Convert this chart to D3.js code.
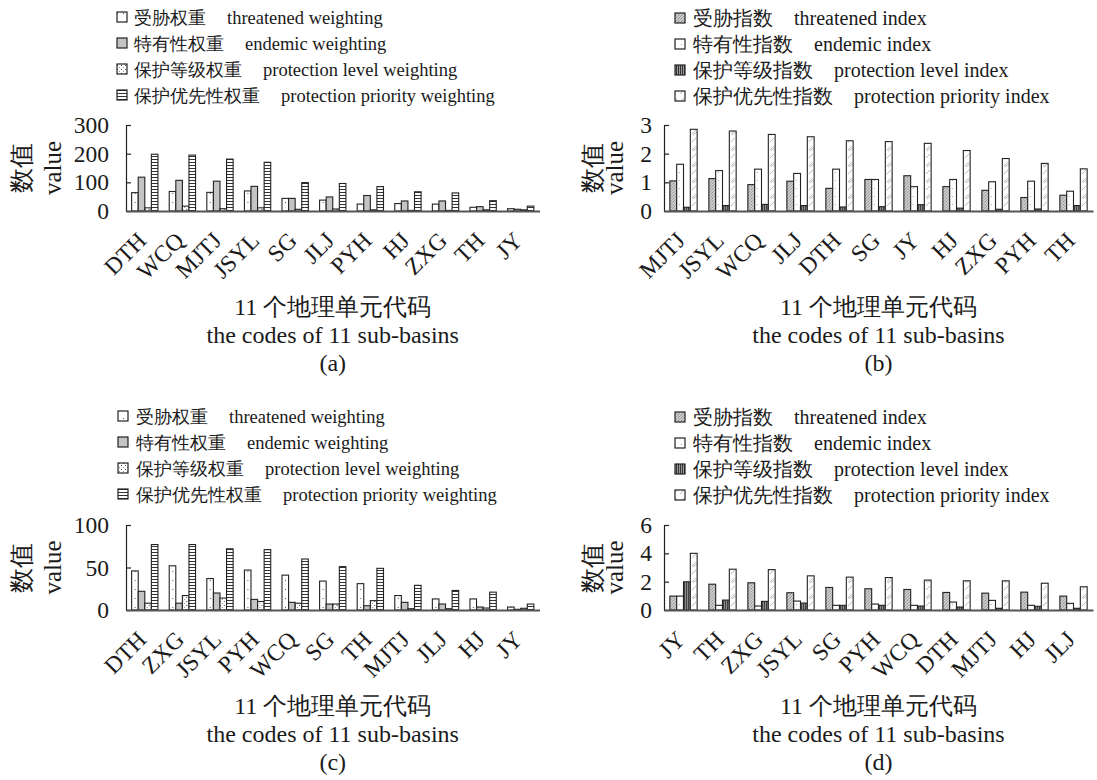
<!DOCTYPE html>
<html><head><meta charset="utf-8">
<script src="https://cdn.jsdelivr.net/npm/d3@7/dist/d3.min.js"></script>
<style>
html,body{margin:0;padding:0;background:#fff;}
svg text{fill:#1a1a1a;font-family:"Liberation Serif","Times New Roman","DejaVu Serif",serif;}
</style></head>
<body>
<script>
// ---------- DATA ----------
const catsA = ["DTH","WCQ","MJTJ","JSYL","SG","JLJ","PYH","HJ","ZXG","TH","JY"];
const threatW_A   = [64,68,65,70,44,38,24,26,24,13,8];
const endemicW_A  = [118,107,104,86,44,49,54,35,35,15,6];
const levelW_A    = [11,17,8,11,6,7,4,2,2,4,4];
const priorityW_A = [198,195,181,170,99,96,85,67,63,36,17];
const ticksA = [0,100,200,300];

const catsB = ["MJTJ","JSYL","WCQ","JLJ","DTH","SG","JY","HJ","ZXG","PYH","TH"];
const threatI_B   = [1.05,1.13,0.92,1.04,0.79,1.10,1.23,0.85,0.72,0.47,0.55];
const endemicI_B  = [1.63,1.41,1.46,1.31,1.46,1.10,0.85,1.10,1.02,1.04,0.69];
const levelI_B    = [0.13,0.19,0.23,0.19,0.14,0.15,0.22,0.10,0.06,0.07,0.19];
const priorityI_B = [2.85,2.79,2.67,2.59,2.45,2.42,2.36,2.11,1.83,1.66,1.47];
const ticksB = [0,1,2,3];

const catsC = ["DTH","ZXG","JSYL","PYH","WCQ","SG","TH","MJTJ","JLJ","HJ","JY"];
const threatW_C   = [46,52,37,47,41,34,31,17,13,13,3.5];
const endemicW_C  = [22,8,20,12.5,9,7,5,9,7,3.5,0.8];
const levelW_C    = [8,17,14,10,8,7,11,1.5,1.5,2.3,2];
const priorityW_C = [77,77,72,71,60,51,49,29,23,21,7];
const ticksC = [0,50,100];

const catsD = ["JY","TH","ZXG","JSYL","SG","PYH","WCQ","DTH","MJTJ","HJ","JLJ"];
const threatI_D   = [0.98,1.82,1.92,1.22,1.59,1.50,1.45,1.24,1.19,1.26,0.98];
const endemicI_D  = [0.98,0.33,0.28,0.63,0.33,0.42,0.33,0.56,0.68,0.33,0.47];
const levelI_D    = [1.99,0.70,0.61,0.49,0.33,0.33,0.28,0.21,0.12,0.26,0.12];
const priorityI_D = [4.0,2.88,2.85,2.41,2.32,2.29,2.11,2.06,2.06,1.89,1.64];
const ticksD = [0,2,4,6];

const legendW_zh = ["受胁权重","特有性权重","保护等级权重","保护优先性权重"];
const legendW_en = ["threatened weighting","endemic weighting","protection level weighting","protection priority weighting"];
const legendI_zh = ["受胁指数","特有性指数","保护等级指数","保护优先性指数"];
const legendI_en = ["threatened index","endemic index","protection level index","protection priority index"];
const yLabelZh = "数值", yLabelEn = "value";
const xTitleZh = "11 个地理单元代码", xTitleEn = "the codes of 11 sub-basins";
const panelTags = ["(a)","(b)","(c)","(d)"];

// ---------- SETUP ----------
const svg = d3.select("body").append("svg").attr("width",1097).attr("height",780);
svg.append("rect").attr("width",1097).attr("height",780).attr("fill","#fff");

const defs = svg.append("defs");
function pat(id,w,h,draw){
  const p = defs.append("pattern").attr("id",id).attr("patternUnits","userSpaceOnUse")
    .attr("width",w).attr("height",h);
  draw(p);
}
// weighting patterns
pat("pA1",6,9,p=>{p.append("rect").attr("width",6).attr("height",9).attr("fill","#fff");
  p.append("rect").attr("x",3).attr("y",4).attr("width",1).attr("height",1).attr("fill","#555");});
pat("pA2",4,4,p=>{p.append("rect").attr("width",4).attr("height",4).attr("fill","#c4c4c4");});
pat("pA3",4,4,p=>{p.append("rect").attr("width",4).attr("height",4).attr("fill","#fff");
  p.append("rect").attr("x",1).attr("y",1).attr("width",1).attr("height",1).attr("fill","#444");
  p.append("rect").attr("x",3).attr("y",3).attr("width",1).attr("height",1).attr("fill","#888");});
pat("pA4",4,3,p=>{p.append("rect").attr("width",4).attr("height",3).attr("fill","#fff");
  p.append("rect").attr("y",0).attr("width",4).attr("height",1).attr("fill","#333");});
// index patterns
pat("pB1",3,3,p=>{p.append("rect").attr("width",3).attr("height",3).attr("fill","#cfcfcf");
  p.append("rect").attr("x",0).attr("y",0).attr("width",1).attr("height",1).attr("fill","#8a8a8a");
  p.append("rect").attr("x",2).attr("y",1).attr("width",1).attr("height",1).attr("fill","#a0a0a0");
  p.append("rect").attr("x",1).attr("y",2).attr("width",1).attr("height",1).attr("fill","#9a9a9a");});
pat("pB2",6,8,p=>{p.append("rect").attr("width",6).attr("height",8).attr("fill","#fff");
  p.append("rect").attr("x",3).attr("y",4).attr("width",1).attr("height",1).attr("fill","#aaa");});
pat("pB3",2,4,p=>{p.append("rect").attr("width",2).attr("height",4).attr("fill","#9a9a9a");
  p.append("rect").attr("x",0).attr("width",1).attr("height",4).attr("fill","#333");});
pat("pB4",7,16,p=>{p.append("rect").attr("width",7).attr("height",16).attr("fill","#fff");
  p.append("path").attr("d","M1,6 L5,2 M2,7 L6,4 M1,14 L5,10").attr("stroke","#b5b5b5").attr("stroke-width",1).attr("fill","none");});

const fillsW = ["url(#pA1)","url(#pA2)","url(#pA3)","url(#pA4)"];
const fillsI = ["url(#pB1)","url(#pB2)","url(#pB3)","url(#pB4)"];

function panel(cfg){
  const g = svg.append("g");
  const y = d3.scaleLinear().domain([0,cfg.yMax]).range([cfg.yBot,cfg.yTop]);
  const xb = d3.scaleBand().domain(cfg.cats).range([cfg.x0,cfg.x1]).paddingInner(0.3).paddingOuter(0.15);
  const xs = d3.scaleBand().domain(d3.range(cfg.series.length)).range([0,xb.bandwidth()]);
  const rows = cfg.cats.map((c,i)=>({c, vals: cfg.series.map(s=>s[i])}));
  const grp = g.selectAll("g.grp").data(rows).join("g").attr("transform",d=>`translate(${xb(d.c)},0)`);
  grp.selectAll("rect").data(d=>d.vals.map((v,k)=>({v,k}))).join("rect")
    .attr("x",d=>xs(d.k)).attr("width",xs.bandwidth())
    .attr("y",d=>y(d.v)).attr("height",d=>cfg.yBot-y(d.v))
    .attr("fill",d=>cfg.fills[d.k]).attr("stroke","#222").attr("stroke-width",1.1);

  // y axis
  const ya = g.append("g").attr("transform",`translate(${cfg.x0},0)`)
    .call(d3.axisLeft(y).tickValues(cfg.ticks).tickSizeInner(-5).tickSizeOuter(0).tickPadding(cfg.tickPad).tickFormat(d3.format("d")));
  ya.attr("font-family",null);
  ya.select(".domain").attr("stroke","#222").attr("stroke-width",1.2);
  ya.selectAll(".tick line").attr("stroke","#222").attr("stroke-width",1.2);
  ya.selectAll(".tick text").attr("font-size",23.5).attr("fill","#1a1a1a");

  // x axis
  const xa = g.append("g").attr("transform",`translate(0,${cfg.yBot})`)
    .call(d3.axisBottom(xb).tickSize(0).tickSizeOuter(0));
  xa.attr("font-family",null);
  xa.select(".domain").attr("stroke","#555").attr("stroke-width",2);
  xa.selectAll(".tick text").attr("font-size",23.5).attr("fill","#1a1a1a")
    .attr("text-anchor","end").attr("y",0).attr("dy",0)
    .attr("transform","translate(3,31) rotate(-45)");

  // y labels
  const cy = (cfg.yTop+cfg.yBot)/2;
  g.append("text").attr("transform",`translate(${cfg.ylabZhX},${cy}) rotate(-90)`)
    .attr("text-anchor","middle").attr("dy","0.35em").attr("font-size",25).text(yLabelZh);
  g.append("text").attr("transform",`translate(${cfg.ylabEnX},${cy}) rotate(-90)`)
    .attr("text-anchor","middle").attr("dy","0.35em").attr("font-size",25).text(yLabelEn);

  // x titles
  const cx = (cfg.x0+cfg.x1)/2;
  g.append("text").attr("x",cx).attr("y",cfg.yBot+104).attr("text-anchor","middle").attr("font-size",24).text(xTitleZh);
  g.append("text").attr("x",cx).attr("y",cfg.yBot+132).attr("text-anchor","middle").attr("font-size",24).text(xTitleEn);
  g.append("text").attr("x",cx).attr("y",cfg.yBot+160).attr("text-anchor","middle").attr("font-size",24).text(cfg.tag);

  // legend
  cfg.legZh.forEach((t,i)=>{
    const by = cfg.legY + i*26;
    g.append("rect").attr("x",cfg.sqX).attr("y",by-12).attr("width",10).attr("height",10)
      .attr("fill",cfg.fills[i]).attr("stroke","#222").attr("stroke-width",1.2);
    const tz = g.append("text").attr("x",cfg.txX).attr("y",by).attr("font-size",cfg.legFs).text(t);
    const w = tz.node().getComputedTextLength();
    g.append("text").attr("x",cfg.txX+w+21).attr("y",by).attr("font-size",cfg.legFsEn).text(cfg.legEn[i]);
  });
}

panel({cats:catsA, series:[threatW_A,endemicW_A,levelW_A,priorityW_A], ticks:ticksA, yMax:300,
  x0:126, x1:539.5, yTop:125, yBot:211, tickPad:17, fills:fillsW, tag:panelTags[0],
  ylabZhX:21, ylabEnX:52, legZh:legendW_zh, legEn:legendW_en, legY:24, sqX:117, txX:134, legFs:18, legFsEn:18.5});
panel({cats:catsB, series:[threatI_B,endemicI_B,levelI_B,priorityI_B], ticks:ticksB, yMax:3,
  x0:664, x1:1093, yTop:125, yBot:211, tickPad:12, fills:fillsI, tag:panelTags[1],
  ylabZhX:592, ylabEnX:614, legZh:legendI_zh, legEn:legendI_en, legY:25, sqX:675, txX:693, legFs:20, legFsEn:20});
panel({cats:catsC, series:[threatW_C,endemicW_C,levelW_C,priorityW_C], ticks:ticksC, yMax:100,
  x0:126, x1:539.5, yTop:525, yBot:610, tickPad:17, fills:fillsW, tag:panelTags[2],
  ylabZhX:21, ylabEnX:52, legZh:legendW_zh, legEn:legendW_en, legY:423, sqX:118, txX:136, legFs:18, legFsEn:18.5});
panel({cats:catsD, series:[threatI_D,endemicI_D,levelI_D,priorityI_D], ticks:ticksD, yMax:6,
  x0:664, x1:1093, yTop:525, yBot:610, tickPad:12, fills:fillsI, tag:panelTags[3],
  ylabZhX:592, ylabEnX:614, legZh:legendI_zh, legEn:legendI_en, legY:424, sqX:675, txX:693, legFs:20, legFsEn:20});
</script>
</body></html>
